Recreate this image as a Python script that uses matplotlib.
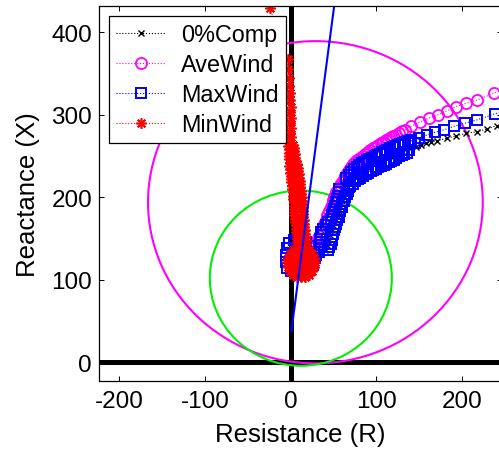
import matplotlib
matplotlib.use("Agg")
import matplotlib.pyplot as plt
from matplotlib.patches import Circle

plt.rcParams['font.family'] = ['Liberation Sans', 'DejaVu Sans']
plt.rcParams['axes.unicode_minus'] = False

# ---- apparent impedance trajectories (R, X) in ohms ----
comp0_r = [12, 15, 11, 8, 11, 16, 20, 25, 30, 35, 40, 42, 44, 46, 48, 50, 52, 54, 56, 58,
           60, 62, 64, 67, 70, 73, 76, 80, 84, 88, 92, 96, 100, 104, 108, 112, 116, 120, 125,
           130, 135, 140, 146, 152, 158, 164, 171, 182.7, 193.6, 205, 218, 229.5, 241, 253]
comp0_x = [124, 127, 130, 126, 121, 123, 128, 131, 133, 134, 136, 142, 148, 154, 160, 166,
           172, 178, 184, 190, 196, 202, 207, 212, 217, 221, 226, 229.5, 233, 236, 238.5,
           240.5, 242.5, 244.5, 246.5, 248.5, 250.5, 252, 254, 256, 258, 259.5, 261.5, 263.5,
           265.5, 267, 268.6, 271.5, 274.7, 277.6, 279.5, 283, 287, 290]

avewind_r = [12, 16, 10, 7, 12, 18, 16, 20, 24, 28, 31, 33, 35, 37, 39, 41, 43, 45,
             47, 48, 49, 50, 51, 52, 53.5, 55, 56.5, 58, 60, 62, 64, 66, 68, 70.5, 73, 75.5,
             78, 81, 84, 87, 90, 93, 96, 99, 102, 105, 108, 111, 114, 117, 120, 123.5, 127,
             130.5, 134, 140, 151, 161, 172, 183, 193.6, 205, 218, 237, 254]
avewind_x = [124, 128, 132, 125, 119, 124, 132, 136, 139, 143, 148, 153, 158, 163, 168, 173,
             178, 183,
             188, 191, 194, 197, 200, 203, 206, 209, 212, 215, 219, 222.5, 226, 229.5, 233,
             236.5, 240, 243, 245.5, 248, 250.5, 253, 255.5, 257.5, 259.5, 261.5, 263.5,
             265.5, 267.5, 269.5, 271, 272.5, 274, 276, 278, 280, 282, 286, 291, 296, 300,
             305, 310, 314, 318, 326, 333]

maxwind_r = [-4, -5, -5, -4, -2, 4, 11, 18, 24, 27, 28, 26, 21, 14, 7, 1, 2, 3, 6, 12, 18,
             21, 20, 15, 9, 8, 12, 16, 24, 30,
             33, 43.7, 33.5, 45.3, 34, 46.7, 34.5, 48, 34.5, 48.8, 35, 49.5, 36, 50.5, 38,
             51.5, 41, 52.9, 44, 54.7, 47.5, 56, 48.5, 57, 49.5, 58.2, 51, 59.5, 52, 60.5,
             53, 61.9, 54, 64, 55, 65.5, 56, 66.5, 57, 68,
             65, 66.5, 68, 69.5, 71, 72.5, 74, 75.5, 77, 78.5, 80, 81.5, 83, 84.5, 86, 87.5,
             89, 90.5, 92, 93.5, 95, 96.5, 98, 99.5, 101, 102.5, 104, 105.5, 107, 108.5, 110,
             111.5, 113, 114.5, 116, 117.5, 119, 120.5, 122, 123.5, 125, 126.5, 128, 129.5,
             131, 132.5, 134, 135.5, 137, 138.5, 140,
             145, 150, 159, 169, 179.5, 190.5, 204, 218, 238, 254]
maxwind_x = [114, 122, 130, 138, 145, 148, 148, 146, 141, 134, 126, 118, 112, 109, 109, 111,
             120, 130, 139, 141, 137, 130, 122, 117, 117, 125, 131, 126, 126, 130,
             134, 136, 138, 140, 142, 144, 146, 148, 150, 152, 154, 156, 158, 160, 162, 164,
             166, 168, 170, 172, 174, 176, 178, 180, 182, 184, 186, 188, 190, 192, 194, 196,
             198, 200, 202, 204, 206, 208, 210, 212,
             224, 209.8, 227.5, 213.3, 231, 216.5, 234, 219.5, 237, 222, 239, 224, 241, 226,
             243, 228, 245, 229.8, 246.5, 231.3, 248, 232.8, 249.5, 234.5, 251.5, 236.3, 253,
             237.8, 254.5, 239.3, 256, 240.8, 257.5, 242.5, 259.5, 244.3, 261, 245.8, 262.5,
             247.3, 264, 249.8, 264.5, 251.3, 266, 252.8, 267.5, 254.3, 268, 256.8, 269.5,
             266, 271.5, 275.5, 279, 282, 286, 290, 294, 301, 305]

minwind_r = [28, 27.2, 24.9, 21.4, 16.9, 12, 7.1, 2.6, -0.9, -3.2, -4, -3.2, -0.9, 2.6, 7.1,
             12, 16.9, 21.4, 24.9, 27.2,
             23, 21.5, 17.5, 12, 6.5, 2.5, 1, 2.5, 6.5, 12, 17.5, 21.5,
             18, 16.2, 12, 7.8, 6, 7.8, 12, 16.2, 12,
             18, 8, 17.5, 7.5, 17, 7, 17, 6.5, 16.5, 6.5, 16, 6, 15.5, 5.5, 15.5, 5, 15, 4.5,
             14.5, 4.5, 14, 4, 14, 4, 13.5, 3.5, 13.5, 3, 13, 3, 12.5, 2.5, 12, 2, 11.5, 1.5,
             11, 1, 10.5, 0.5, 10, 0, 9.5, -0.5, 9, -1, 8.5, -1.5, 7, -1, 6.5, -1.5, 5.5,
             -1.5, 5, -2, 4, -2, 3.5, -2.5, 3,
             -1.5, 1, -1, 1, -1, 0, -1, 0, -1, -1, -2, -2, -3, -3, -24]
minwind_x = [121, 126.6, 131.6, 135.6, 138.1, 139, 138.1, 135.6, 131.6, 126.6, 121, 115.4,
             110.4, 106.4, 103.9, 103, 103.9, 106.4, 110.4, 115.4,
             121, 127, 131.4, 133, 131.4, 127, 121, 115, 110.6, 109, 110.6, 115,
             121, 125.6, 127.5, 125.6, 121, 116.4, 114.5, 116.4, 121,
             144, 146, 148, 150, 152, 154, 156, 158, 160, 162, 164, 166, 168, 170, 172, 174,
             176, 178, 180, 182, 184, 186, 188, 190, 192, 194, 196, 198, 200, 202, 204, 206,
             208, 210, 212, 214, 216, 218, 220, 222, 224, 226, 228, 230, 232, 234, 236, 238,
             240, 242, 244, 246, 248, 250, 252, 254, 256, 258, 260, 262, 264,
             268, 273, 278, 284, 290, 296, 303, 310, 318, 326, 335, 345, 356, 368, 429]

# ---- relay characteristics ----
mho_centers = [(29, 194), (12, 102)]
mho_radii = [195.3, 106.2]
mho_colors = ['#ff00ff', '#00ee00']
angle_line_r = [1, 56]
angle_line_x = [38, 472]

fig = plt.figure(figsize=(4.99, 4.52), dpi=100)
ax = fig.add_axes([99 / 499, 70.3 / 452, 403 / 499, 374.7 / 452])

# coordinate axes through the origin
ax.axhline(0, color='black', lw=3.6, zorder=1)
ax.axvline(0, color='black', lw=3.6, zorder=1)

for (cx, cy), rad, col in zip(mho_centers, mho_radii, mho_colors):
    ax.add_patch(Circle((cx, cy), rad, fill=False, edgecolor=col, lw=1.5, zorder=1.5))

ax.plot(comp0_r, comp0_x, ls=':', color='black', lw=0.8, marker='x', ms=4.5,
        mew=1.0, label='0%Comp', zorder=2)
ax.plot(avewind_r, avewind_x, ls=':', color='#ff00ff', lw=0.8, marker='o', ms=8,
        mfc='none', mew=1.3, label='AveWind', zorder=2.1)
ax.plot(maxwind_r, maxwind_x, ls=':', color='#0000ff', lw=0.8, marker='s', ms=7.2,
        mfc='none', mew=1.4, label='MaxWind', zorder=2.2)
ax.plot(minwind_r, minwind_x, ls=':', color='#ff0000', lw=0.8, marker=(8, 2, 0), ms=7.5,
        mew=1.2, label='MinWind', zorder=2.3)

ax.plot(angle_line_r, angle_line_x, color='#0000ff', lw=1.5, zorder=2.5)

ax.set_xlim(-223.5, -223.5 + 403 / 0.857)
ax.set_ylim(-22.3, -22.3 + 374.7 / 0.825)
ax.set_xticks([-200, -100, 0, 100, 200])
ax.set_yticks([0, 100, 200, 300, 400])
ax.tick_params(direction='in', length=3.6, width=0.7, top=True, right=True,
               labelsize=17.5)
ax.tick_params(axis='x', pad=7)
ax.tick_params(axis='y', pad=5)
for sp in ax.spines.values():
    sp.set_linewidth(0.9)

ax.set_xlabel('Resistance (R)', fontsize=18.5, labelpad=7)
ax.set_ylabel('Reactance (X)', fontsize=18.5, labelpad=8)

leg = ax.legend(loc='upper left', bbox_to_anchor=(10 / 403, (381.7 - 17) / 374.7),
                borderaxespad=0, fontsize=16.8, handlelength=2.1, handletextpad=0.7,
                labelspacing=0.3, borderpad=0.3, fancybox=False, framealpha=1,
                edgecolor='black')
leg.get_frame().set_linewidth(0.9)

fig.savefig('out.png', dpi=100)
